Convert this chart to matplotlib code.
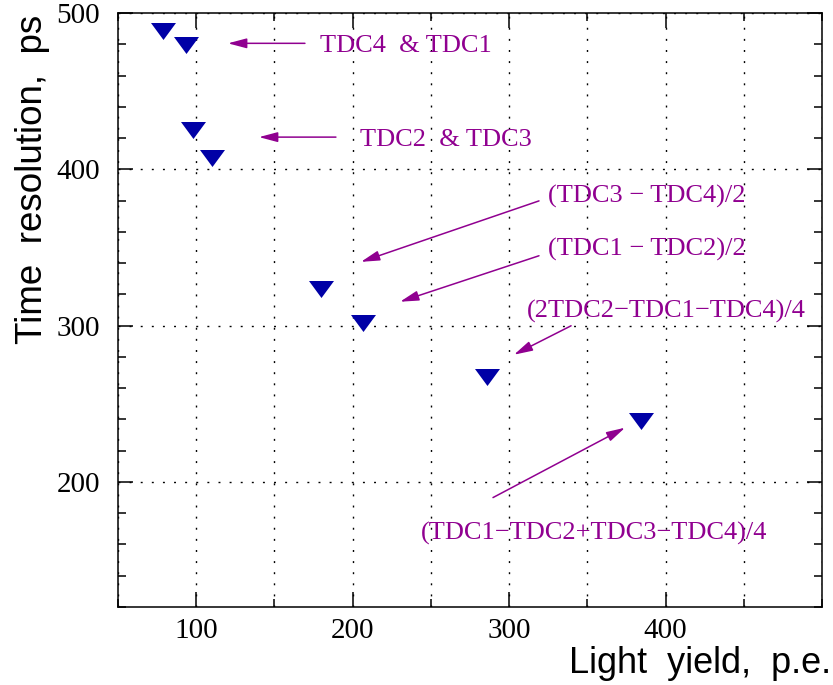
import matplotlib
matplotlib.use("Agg")
import matplotlib.pyplot as plt
from matplotlib.ticker import MultipleLocator

# ---- data ----
light_yield = [78.8, 93.5, 98.0, 110.0, 179.8, 206.6, 285.9, 384.3]
time_res = [488.5, 479.6, 425.3, 407.4, 323.7, 301.4, 266.9, 238.8]

labels = ["TDC4  & TDC1", "TDC2  & TDC3", "(TDC3 \u2212 TDC4)/2", "(TDC1 \u2212 TDC2)/2",
          "(2TDC2\u2212TDC1\u2212TDC4)/4", "(TDC1\u2212TDC2+TDC3\u2212TDC4)/4"]
label_pos = [(179.1, 474.9), (204.7, 414.8), (324.9, 379.0), (324.9, 344.5),
             (311.4, 305.0), (243.7, 163.2)]
arrow_tail = [(169.5, 480.6), (189.3, 420.6), (319.1, 379.8), (319.1, 344.7),
              (339.6, 299.9), (289.7, 190.0)]
arrow_tip = [(120.3, 480.6), (140.1, 420.6), (205.3, 340.8), (230.3, 315.3),
             (303.1, 281.4), (374.1, 234.7)]

xlim = (50, 500)
ylim = (120, 500)

blue = "#0000a6"
purple = "#900090"

fig = plt.figure(figsize=(8.33, 6.85), dpi=100)
ax = fig.add_axes([118/833, 78/685, 704/833, 594/685])
ax.set_xlim(*xlim)
ax.set_ylim(*ylim)

# grid
dots = (0, (1.4, 6.6))
ax.xaxis.set_major_locator(MultipleLocator(100))
ax.xaxis.set_minor_locator(MultipleLocator(50))
ax.yaxis.set_major_locator(MultipleLocator(100))
ax.yaxis.set_minor_locator(MultipleLocator(20))
ax.grid(True, which="major", axis="both", color="black", linestyle=dots, linewidth=1.0)
ax.grid(True, which="minor", axis="x", color="black", linestyle=dots, linewidth=1.0)
ax.set_axisbelow(True)

for s in ax.spines.values():
    s.set_linewidth(1.1)

ax.tick_params(which="both", direction="in", top=True, right=True, width=1.1, colors="black")
ax.tick_params(which="major", length=11)
ax.tick_params(which="minor", length=6)
ax.tick_params(axis="x", which="major", pad=8)
ax.tick_params(axis="y", which="major", pad=13)

for lab in ax.get_xticklabels() + ax.get_yticklabels():
    lab.set_fontfamily("Liberation Serif")
    lab.set_fontsize(21)

# hide the 500 x tick label (not drawn in reference)
ax.set_xticks([100, 200, 300, 400])
ax.set_xticklabels(["100", "200", "300", "400"], fontfamily="Liberation Serif", fontsize=21)
ax.set_yticks([200, 300, 400, 500])
ax.set_yticklabels(["200", "300", "400", "500"], fontfamily="Liberation Serif", fontsize=21)

tri = [(-1, 0.68), (1, 0.68), (0, -0.68)]
ax.plot(light_yield, time_res, linestyle="none", marker=tri, markersize=18,
        color=blue, markeredgewidth=0, zorder=5)

for txt, pos, tail, tip in zip(labels, label_pos, arrow_tail, arrow_tip):
    ax.text(pos[0], pos[1], txt, color=purple, fontfamily="Liberation Serif",
            fontsize=19, ha="left", va="baseline")
    ax.annotate("", xy=tip, xytext=tail,
                arrowprops=dict(arrowstyle="-|>,head_length=1.13,head_width=0.3",
                                mutation_scale=10, color=purple, lw=1.1,
                                shrinkA=0, shrinkB=0))

fig.text(831/833, 12/685, "Light  yield,  p.e.", fontfamily="Liberation Sans",
         fontsize=26, ha="right", va="baseline")
fig.text(42/833, 1 - 15/685, "Time  resolution,  ps", fontfamily="Liberation Sans",
         fontsize=26.5, rotation=90, rotation_mode="anchor", ha="right", va="baseline")

fig.savefig("out.png", dpi=100)
